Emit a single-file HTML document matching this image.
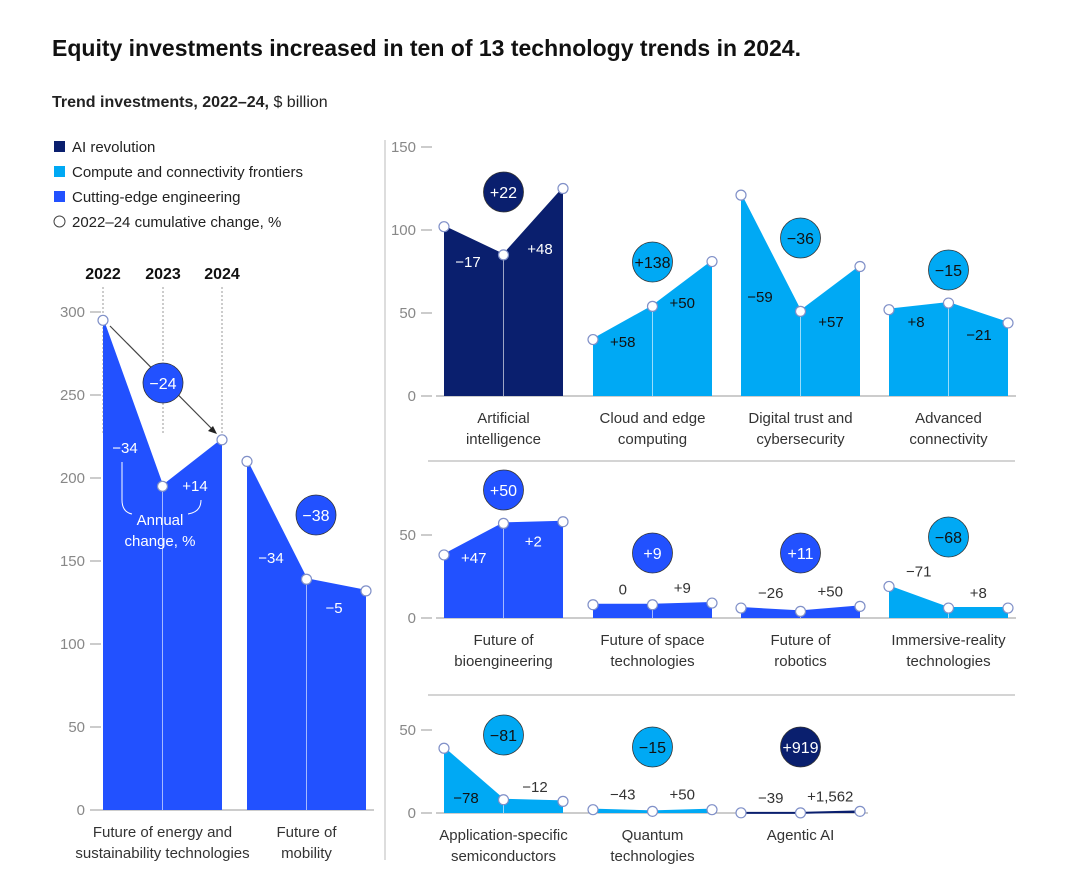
<!DOCTYPE html>
<html><head><meta charset="utf-8">
<style>
body{margin:0;background:#fff;font-family:"Liberation Sans",sans-serif;}
svg text{font-family:"Liberation Sans",sans-serif;}
</style></head>
<body>
<svg id="c" width="1080" height="881" xmlns="http://www.w3.org/2000/svg">
<text x="52" y="56" font-size="23" font-weight="bold" fill="#111">Equity investments increased in ten of 13 technology trends in 2024.</text>
<text x="52" y="107" font-size="16" fill="#222"><tspan font-weight="bold">Trend investments, 2022–24,</tspan> $ billion</text>
<g>
<rect x="54" y="141" width="11" height="11" fill="#0a1f6e"/>
<text x="72" y="152" font-size="15" fill="#222">AI revolution</text>
<rect x="54" y="166" width="11" height="11" fill="#00a9f4"/>
<text x="72" y="177" font-size="15" fill="#222">Compute and connectivity frontiers</text>
<rect x="54" y="191" width="11" height="11" fill="#2251ff"/>
<text x="72" y="202" font-size="15" fill="#222">Cutting-edge engineering</text>
<circle cx="59.5" cy="221.5" r="5.5" fill="#fff" stroke="#444"/>
<text x="72" y="227" font-size="15" fill="#222">2022–24 cumulative change, %</text>
</g>
<line x1="385" y1="140" x2="385" y2="860" stroke="#bbb"/>
<line x1="428" y1="461" x2="1015" y2="461" stroke="#aaa"/>
<line x1="428" y1="695" x2="1015" y2="695" stroke="#aaa"/>
<g id="marks"></g>
</svg>
<script>
const colors={ai:"#0a1f6e",cc:"#00a9f4",ce:"#2251ff"};
const leftNames=[["Future of energy and","sustainability technologies"],["Future of","mobility"]];
const leftCat=["ce","ce"];
const leftValues=[[295,195,223],[210,139,132]];
const leftAnnual=[["−34","+14"],["−34","−5"]];
const leftCum=["−24","−38"];
const leftTicks=[0,50,100,150,200,250,300];

const r1Names=[["Artificial","intelligence"],["Cloud and edge","computing"],["Digital trust and","cybersecurity"],["Advanced","connectivity"]];
const r1Cat=["ai","cc","cc","cc"];
const r1Values=[[102,85,125],[34,54,81],[121,51,78],[52,56,44]];
const r1Annual=[["−17","+48"],["+58","+50"],["−59","+57"],["+8","−21"]];
const r1Cum=["+22","+138","−36","−15"];
const r1Ticks=[0,50,100,150];

const r2Names=[["Future of","bioengineering"],["Future of space","technologies"],["Future of","robotics"],["Immersive-reality","technologies"]];
const r2Cat=["ce","ce","ce","cc"];
const r2Values=[[38,57,58],[8,8,9],[6,4,7],[19,6,6]];
const r2Annual=[["+47","+2"],["0","+9"],["−26","+50"],["−71","+8"]];
const r2Cum=["+50","+9","+11","−68"];
const r2Ticks=[0,50];

const r3Names=[["Application-specific","semiconductors"],["Quantum","technologies"],["Agentic AI"]];
const r3Cat=["cc","cc","ai"];
const r3Values=[[39,8,7],[2,1,2],[0.1,0.07,1]];
const r3Annual=[["−78","−12"],["−43","+50"],["−39","+1,562"]];
const r3Cum=["−81","−15","+919"];
const r3Ticks=[0,50];

const NS="http://www.w3.org/2000/svg";
const G=document.getElementById('marks');
function mk(t,a,p){const e=document.createElementNS(NS,t);for(const k in a)e.setAttribute(k,a[k]);(p||G).appendChild(e);return e;}

function panel(cfg){
  const ys=v=>cfg.y0-v*cfg.k;
  const xTick=cfg.tickX;
  cfg.ticks.forEach(t=>{
    const tx=mk('text',{x:xTick-12,y:ys(t)+5,'font-size':15,fill:'#888','text-anchor':'end'});tx.textContent=t;
    
    
    const l=mk('line',{x1:xTick-7,y1:ys(t),x2:xTick+4,y2:ys(t),stroke:'#999'});
    
    
  });
  const base=mk('line',{x1:cfg.xs[0]-8,y1:cfg.y0,x2:cfg.xs[cfg.xs.length-1]+cfg.w+8,y2:cfg.y0,stroke:'#999'});
  
  
  cfg.values.forEach((vals,i)=>{
    const x0=cfg.xs[i],w=cfg.w,px=[x0,x0+w/2,x0+w];
    const col=colors[cfg.cat[i]],dark=cfg.cat[i]!=='cc';
    const pts=vals.map((v,j)=>px[j]+','+ys(v)).join(' ');
    const a=mk('polygon',{points:x0+','+cfg.y0+' '+pts+' '+(x0+w)+','+cfg.y0,fill:col});
    
    
    const ln=mk('polyline',{points:pts,fill:'none',stroke:col,'stroke-width':2});
    
    
    const vl=mk('line',{x1:px[1],y1:ys(vals[1]),x2:px[1],y2:cfg.y0,stroke:'#fff','stroke-opacity':0.6});
    
    
    vals.forEach((v,j)=>{
      const c=mk('circle',{cx:px[j],cy:ys(v),r:5,fill:'#fff',stroke:'#8090c8','stroke-width':1.2});
      
      
    });
    cfg.annual[i].forEach((lab,j)=>{
      const va=vals[j],vb=vals[j+1],lo=Math.min(va,vb);
      let small=lo*cfg.k<35;
      let mx=(px[j]+px[j+1])/2;
      let my=small? ys(Math.max(va,vb))-10 : ys((va+vb)/2)+24;
      let inside=!small;
      if(cfg.lp&&cfg.lp[i]){mx=cfg.lp[i][j][0];my=cfg.lp[i][j][1];inside=cfg.lp[i][j][2];}
      const t=mk('text',{x:mx,y:my,'font-size':15,'text-anchor':'middle',fill:!inside?'#333':(dark?'#fff':'#111')});
      t.textContent=lab;
      
      
    });
    const cy=cfg.cumY[i];
    const cc=mk('circle',{cx:cfg.cumX?cfg.cumX[i]:px[1],cy:cy,r:20,fill:col,stroke:'#333','stroke-width':0.8});
    
    
    const ct=mk('text',{x:cc.getAttribute('cx'),y:cy+6,'font-size':16,'text-anchor':'middle',fill:dark?'#fff':'#111'});
    ct.textContent=cfg.cum[i];
    
    
    cfg.names[i].forEach((s,k)=>{
      const n=mk('text',{x:px[1],y:cfg.y0+27+k*21,'font-size':15,'text-anchor':'middle',fill:'#333'});
      n.textContent=s;
      
      
    });
  });
}
[[103,"2022"],[163,"2023"],[222,"2024"]].forEach(([x,s])=>{
  const t=mk('text',{x:x,y:279,'font-size':16,'font-weight':'bold','text-anchor':'middle',fill:'#111'});t.textContent=s;
  
  
  const l=mk('line',{x1:x,y1:287,x2:x,y2:435,stroke:'#999','stroke-dasharray':'2,2'});
  
  
});
const ar=mk('line',{x1:110,y1:326,x2:213,y2:430,stroke:'#444','stroke-width':1.2});


const ah=mk('polygon',{points:'217,434 208,431 213,426',fill:'#222'});



panel({id:'left',y0:810,k:1.66,tickX:97,xs:[103,247],w:119,values:leftValues,cat:leftCat,annual:leftAnnual,cum:leftCum,names:leftNames,ticks:leftTicks,cumX:[163,316],cumY:[383,515],
  lp:[[[125,453,1],[195,491,1]],[[271,563,1],[334,613,1]]]});
panel({id:'r1',y0:396,k:1.66,tickX:428,xs:[444,593,741,889],w:119,values:r1Values,cat:r1Cat,annual:r1Annual,cum:r1Cum,names:r1Names,ticks:r1Ticks,cumY:[192,262,238,270],
  lp:[[[468,267,1],[540,254,1]],null,[[760,302,1],[831,327,1]],[[916,327,1],[979,340,1]]]});
panel({id:'r2',y0:618,k:1.66,tickX:428,xs:[444,593,741,889],w:119,values:r2Values,cat:r2Cat,annual:r2Annual,cum:r2Cum,names:r2Names,ticks:r2Ticks,cumY:[490,553,553,537]});
panel({id:'r3',y0:813,k:1.66,tickX:428,xs:[444,593,741],w:119,values:r3Values,cat:r3Cat,annual:r3Annual,cum:r3Cum,names:r3Names,ticks:r3Ticks,cumY:[735,747,747],
  lp:[[[466,803,1],[535,792,0]],null,null]});

const an=mk('text',{x:160,y:525,'font-size':15,'text-anchor':'middle',fill:'#fff'});an.textContent='Annual';


const an2=mk('text',{x:160,y:546,'font-size':15,'text-anchor':'middle',fill:'#fff'});an2.textContent='change, %';


const c1=mk('path',{d:'M122,462 L122,500 Q122,512 132,514',fill:'none',stroke:'#fff'});


const c2=mk('path',{d:'M188,514 Q201,512 201,500',fill:'none',stroke:'#fff'});


</script>
</body></html>
